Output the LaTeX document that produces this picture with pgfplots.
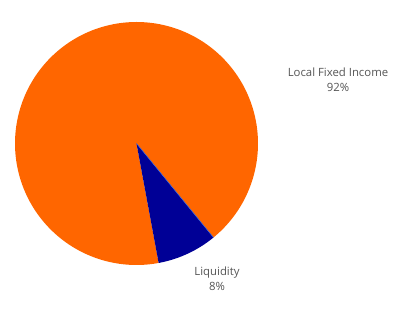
\documentclass[border=0pt]{standalone}
\usepackage{pgfplots}
\pgfplotsset{compat=1.18}
\usepackage{fontspec}
\setmainfont{Open Sans}
\definecolor{pieorange}{HTML}{FF6600}
\definecolor{pienavy}{HTML}{000096}
\definecolor{edgeblue}{HTML}{3A6BE0}
\definecolor{labelgray}{HTML}{555555}
\begin{document}
\begin{tikzpicture}
% values (percent)
\def\vLiq{8}
\def\vLFI{92}
\pgfmathsetmacro{\aStart}{-79.5}
\pgfmathsetmacro{\aMid}{\aStart+\vLiq*3.6}
\pgfmathsetmacro{\aEnd}{\aMid+\vLFI*3.6}
\def\cx{136.5}
\def\cy{168.5}
\def\rr{121.5}
\begin{axis}[
  scale only axis, width=400bp, height=312bp,
  xmin=0, xmax=400, ymin=0, ymax=312,
  hide axis, clip=false,
]
\path (rel axis cs:0,0) rectangle (rel axis cs:1,1);
\addplot[fill=pieorange, draw=none, domain=\aMid:\aEnd, samples=300]
  ({\cx+\rr*cos(x)},{\cy+\rr*sin(x)}) -- (axis cs:\cx,\cy) -- cycle;
\addplot[fill=pienavy, draw=none, domain=\aStart:\aMid, samples=60]
  ({\cx+\rr*cos(x)},{\cy+\rr*sin(x)}) -- (axis cs:\cx,\cy) -- cycle;
\addplot[edgeblue, line width=0.5pt, domain=0:1, samples=2]
  ({\cx+x*\rr*cos(\aMid)},{\cy+x*\rr*sin(\aMid)});
\node[font=\fontsize{11.4}{15}\selectfont, text=labelgray, align=center] at (axis cs:338,232)
  {Local Fixed Income\\92\%};
\node[font=\fontsize{11.4}{15}\selectfont, text=labelgray, align=center] at (axis cs:217,33)
  {Liquidity\\8\%};
\end{axis}
\end{tikzpicture}
\end{document}
